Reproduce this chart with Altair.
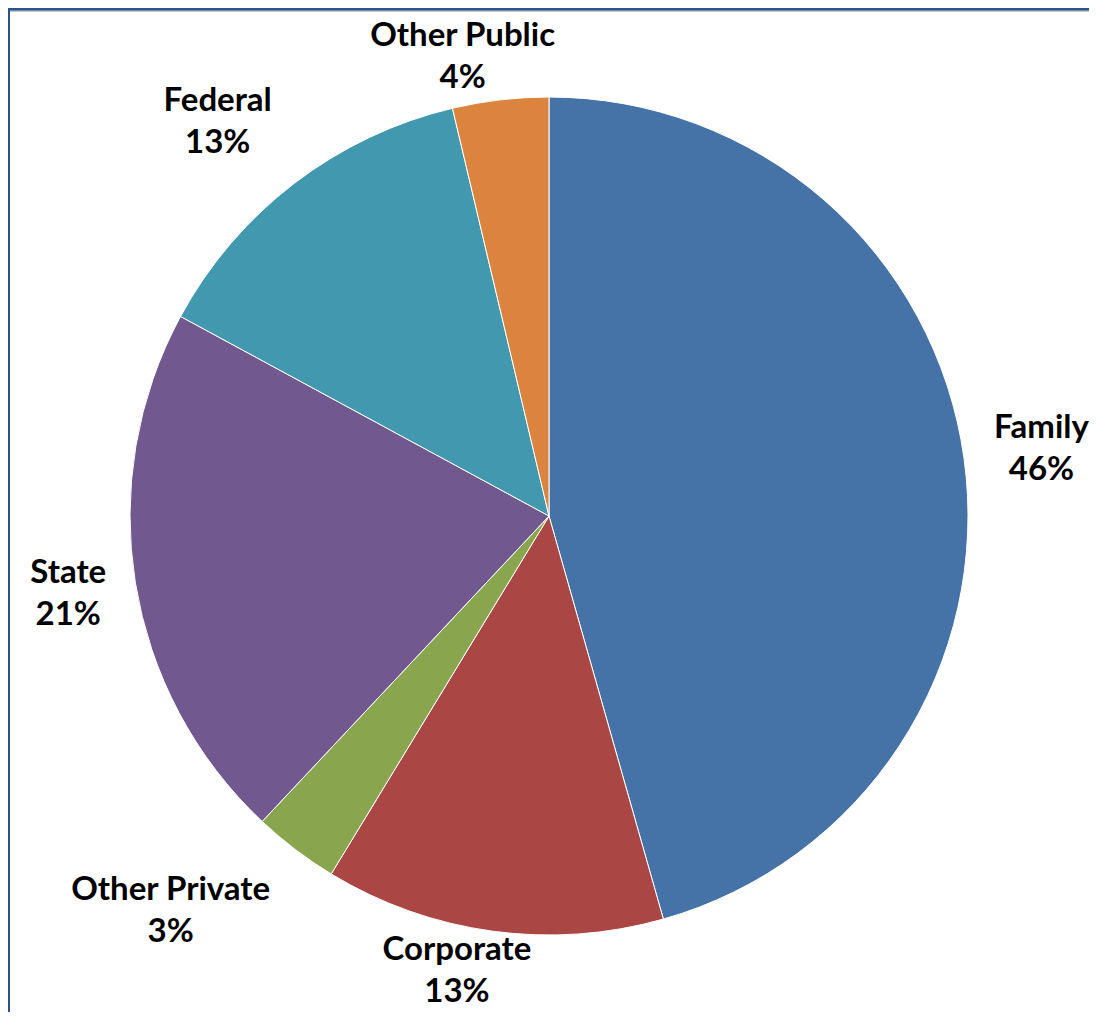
import math
import altair as alt
import pandas as pd

# ---- data ----
categories = ["Family", "Corporate", "Other Private", "State", "Federal", "Other Public"]
shares = [45.6, 13.1, 3.3, 20.9, 13.4, 3.7]
colors = ["#4572A7", "#AA4643", "#89A54E", "#71588F", "#4198AF", "#DB843D"]

# ---- label placement (style): radial distance in px, angular nudge in degrees ----
label_radius = [497, 464, 547, 487, 515, 467]
label_nudge = [0.2, 3.7, 6.5, 0.0, -2.6, -4.0]

total = sum(shares)
rows = []
cum = 0.0
for i, (c, v) in enumerate(zip(categories, shares)):
    mid_deg = (cum + v / 2) / total * 360
    rows.append({
        "category": c,
        "value": v,
        "order": i,
        "label": f"{c}\n{round(v)}%",
        "label_deg": mid_deg + label_nudge[i],
        "label_r": label_radius[i],
    })
    cum += v
df = pd.DataFrame(rows)

W, H = 1081, 1004
CX, CY = 541, 508
FONT = "Lato"
LH = 42

base = alt.Chart(df)

arcs = base.mark_arc(outerRadius=419, stroke="white", strokeWidth=1).encode(
    theta=alt.Theta("value:Q", stack=True, scale=alt.Scale(domain=[0, total])),
    color=alt.Color("category:N", scale=alt.Scale(domain=categories, range=colors), legend=None),
    order=alt.Order("order:Q", sort="ascending"),
    x=alt.value(CX),
    y=alt.value(CY),
)

labels = base.mark_text(
    font=FONT, fontSize=33, fontWeight="bold", color="#000000",
    align="center", baseline="middle", lineBreak="\n", lineHeight=LH, dy=-LH / 2,
).encode(
    theta=alt.Theta("label_deg:Q", stack=None, scale=alt.Scale(domain=[0, 360], range=[0, 2 * math.pi])),
    radius=alt.Radius("label_r:Q", scale=None),
    text="label:N",
    x=alt.value(CX),
    y=alt.value(CY),
)

frame_data = alt.Data(values=[{"k": 1}])
shadow = alt.Chart(frame_data).mark_rule(color="#C8C8C8", strokeWidth=2).encode(
    x=alt.value(0), x2=alt.value(W), y=alt.value(3)
)
top_line = alt.Chart(frame_data).mark_rule(color="#2B5289", strokeWidth=3).encode(
    x=alt.value(0), x2=alt.value(W), y=alt.value(1)
)
left_line = alt.Chart(frame_data).mark_rule(color="#2B5289", strokeWidth=2).encode(
    x=alt.value(1), y=alt.value(0), y2=alt.value(H)
)

chart = alt.layer(arcs, labels, shadow, top_line, left_line).resolve_scale(
    theta="independent", radius="independent"
).properties(
    width=W, height=H, padding=0,
    autosize=alt.AutoSizeParams(type="none"),
).configure_view(stroke=None).configure(background="white")

chart.save("out.html", embed_options={"renderer": "svg", "actions": False})
